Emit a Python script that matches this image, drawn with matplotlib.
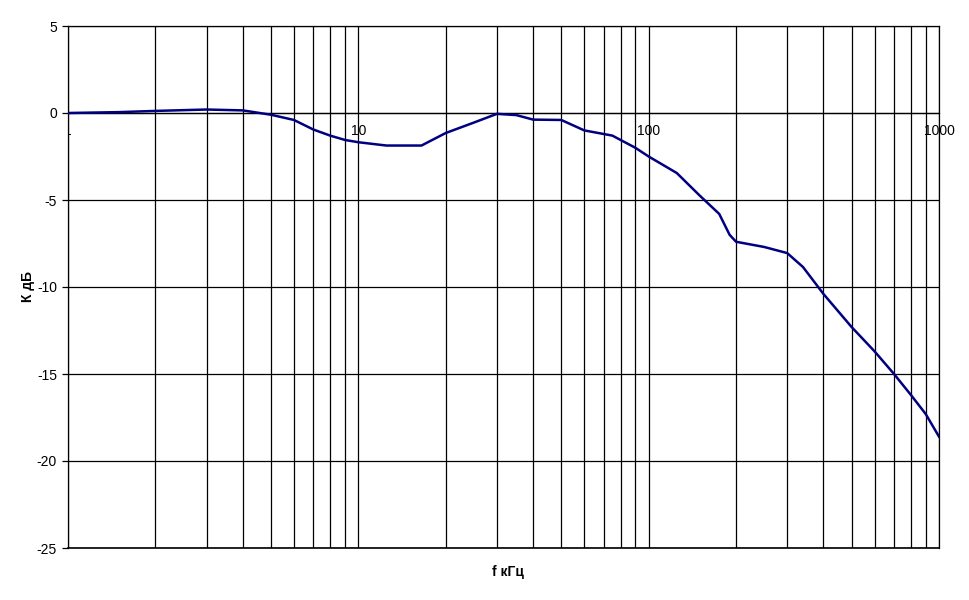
import numpy as np
import matplotlib
matplotlib.use("Agg")
from matplotlib import pyplot as plt
from matplotlib.ticker import FixedLocator, NullFormatter

plt.rcParams["font.family"] = ["Liberation Sans", "DejaVu Sans"]
plt.rcParams["axes.unicode_minus"] = False

# frequency response
freq_khz = [1, 1.5, 2, 3, 4, 5, 6, 7, 8, 9, 10, 12.5, 16.5, 20, 25, 30, 35,
            40, 50, 60, 75, 90, 100, 125, 150, 175, 190, 200, 250, 300, 340,
            400, 500, 600, 700, 800, 900, 1000]
gain_db = [0, 0.05, 0.12, 0.2, 0.15, -0.1, -0.4, -0.95, -1.3, -1.55, -1.68,
           -1.87, -1.87, -1.15, -0.55, -0.05, -0.12, -0.38, -0.4, -1.0, -1.3,
           -2.0, -2.5, -3.45, -4.75, -5.8, -7.0, -7.4, -7.7, -8.05, -8.85,
           -10.4, -12.3, -13.7, -15.0, -16.2, -17.3, -18.6]

x_major = [1, 10, 100, 1000]
x_labels = ["1", "10", "100", "1000"]
y_ticks = [5, 0, -5, -10, -15, -20, -25]

fig = plt.figure(figsize=(9.7, 6), dpi=100)
ax = fig.add_axes([68 / 970, 52 / 600, 871 / 970, 522 / 600])

ax.plot(freq_khz, gain_db, color="#000080", lw=1.8, zorder=3)

ax.set_xscale("log")
ax.set_xlim(1, 1000)
ax.set_ylim(-25, 5)

ax.xaxis.set_major_locator(FixedLocator(x_major))
ax.set_xticklabels(x_labels)
minor = [m * 10 ** d for d in range(3) for m in range(2, 10)]
ax.xaxis.set_minor_locator(FixedLocator(minor))
ax.xaxis.set_minor_formatter(NullFormatter())
ax.set_yticks(y_ticks)

ax.grid(True, which="major", color="black", lw=0.9)
ax.grid(True, which="minor", axis="x", color="black", lw=0.9)

# frame edges: right and top spines plus a line along the bottom limit
ax.spines["top"].set_linewidth(0.9)
ax.spines["right"].set_linewidth(0.9)
ax.spines["left"].set_linewidth(0.9)
ax.spines["bottom"].set_position(("data", 0))
ax.spines["bottom"].set_linewidth(0.9)
ax.axhline(ax.get_ylim()[0], color="black", lw=1.2, clip_on=False)

ax.tick_params(axis="x", which="both", length=0, pad=8, labelsize=10)
ax.tick_params(axis="y", length=4, width=0.9, pad=4, labelsize=10)

for t in ax.get_xticklabels():
    if t.get_text() == "1":
        t.set_clip_on(True)
        t.set_clip_box(ax.bbox)

ax.set_ylabel("К дБ", fontsize=10, fontweight="bold", labelpad=1)
ax.text(0.505, -0.046, "f кГц", transform=ax.transAxes, ha="center",
        va="center", fontsize=10, fontweight="bold")

fig.savefig("out.png", dpi=100)
